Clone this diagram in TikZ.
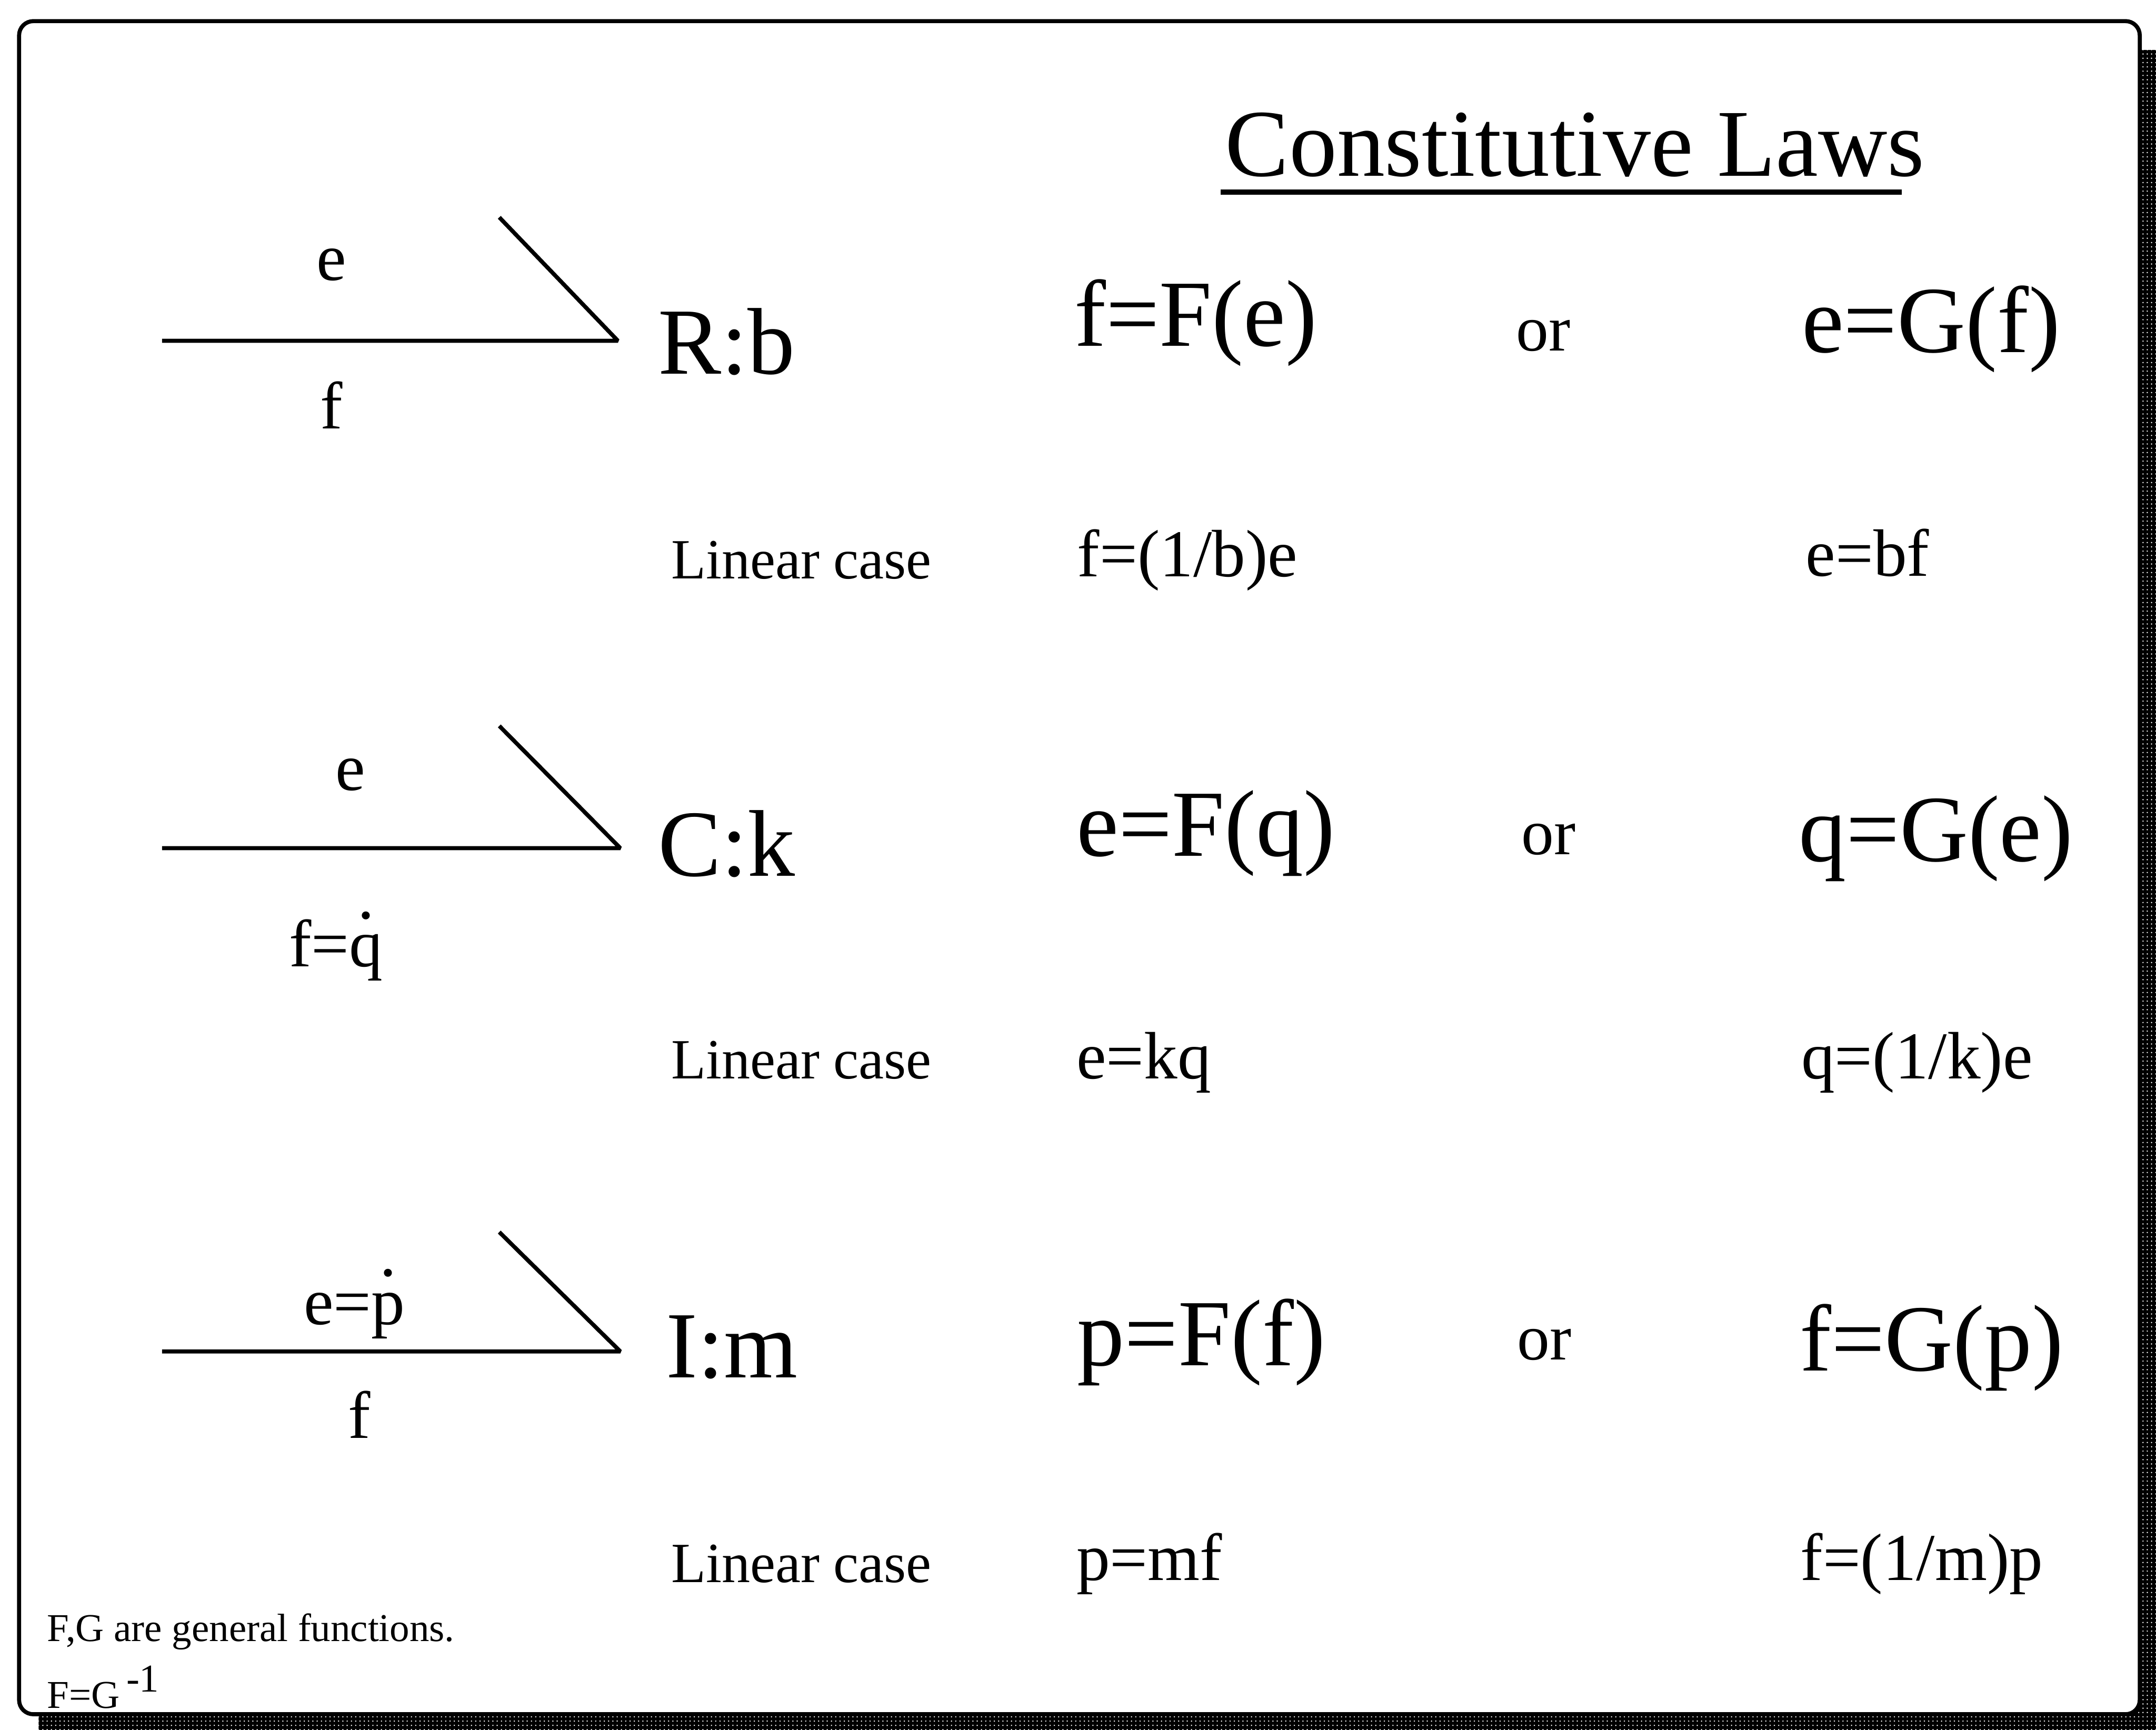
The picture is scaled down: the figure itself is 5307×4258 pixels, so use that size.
\documentclass[tikz,border=0pt]{standalone}
\usepackage{fontspec}
\setmainfont{Liberation Serif}
\usetikzlibrary{patterns}
\newcommand\overdot[1]{\ooalign{#1\cr\hidewidth\raisebox{0.72em}{.}\hidewidth\cr}}
\tikzset{
  txt/.style={inner sep=0pt, outer sep=0pt, anchor=base west},
  ctxt/.style={inner sep=0pt, outer sep=0pt, anchor=base},
  ftitle/.style={font=\fontsize{67pt}{70pt}\selectfont},
  fbig/.style={font=\fontsize{66.3pt}{70pt}\selectfont},
  fmid/.style={font=\fontsize{46.9pt}{50pt}\selectfont},
  forr/.style={font=\fontsize{45.5pt}{50pt}\selectfont},
  flin/.style={font=\fontsize{39.8pt}{44pt}\selectfont},
  ffoot/.style={font=\fontsize{27.6pt}{31pt}\selectfont},
  bondline/.style={line width=0.1cm, line join=bevel},
  frameline/.style={line width=0.1cm, fill=white, rounded corners=0.35cm},
}
\begin{document}
\begin{tikzpicture}[x=0.01cm, y=-0.01cm]
\useasboundingbox (0,0) rectangle (5307,4258);
\clip (0,0) rectangle (5307,4258);
\fill[white] (0,0) rectangle (5307,4258);
% shadow
\fill[black, rounded corners=0.35cm] (95,123) rectangle (5345,4300);
\fill[pattern=dots, pattern color=white] (95,123) rectangle (5345,4300);
% frame
\draw[frameline] (47,52) rectangle (5267,4220);

% title
\node[txt, ftitle] (title) at (3016,433) {Constitutive Laws};
\draw[line width=0.12cm] (3005,473) -- (4681,473);

% bonds
\coordinate (s1) at (399,839);  \coordinate (t1) at (1521,839);  \coordinate (h1) at (1229,535);
\coordinate (s2) at (399,2088); \coordinate (t2) at (1527,2088); \coordinate (h2) at (1229,1787);
\coordinate (s3) at (399,3327); \coordinate (t3) at (1527,3327); \coordinate (h3) at (1229,3033);
\draw[bondline] (s1) -- (t1) -- (h1);
\draw[bondline] (s2) -- (t2) -- (h2);
\draw[bondline] (s3) -- (t3) -- (h3);

% bond labels
\node[ctxt, fmid] (e1) at (816,690) {e};
\node[ctxt, fmid] (f1) at (816,1055) {f};
\node[ctxt, fmid] (e2) at (862,1946) {e};
\node[txt, fmid] (f2) at (712,2380) {f=\overdot{q}};
\node[txt, fmid] (e3) at (748,3260) {e=\overdot{p}};
\node[ctxt, fmid] (f3) at (884,3540) {f};

% elements
\node[txt, fbig] (R) at (1620,920) {R:b};
\node[txt, fbig] (C) at (1620,2157) {C:k};
\node[txt, fbig] (I) at (1640,3392) {I:m};

% general laws
\node[txt, fbig] (F1) at (2645,852) {f=F(e)};
\node[txt, forr] (or1) at (3732,863) {or};
\node[txt, fbig] (G1) at (4435,868) {e=G(f)};
\node[txt, fbig] (F2) at (2650,2107) {e=F(q)};
\node[txt, forr] (or2) at (3745,2103) {or};
\node[txt, fbig] (G2) at (4428,2120) {q=G(e)};
\node[txt, fbig] (F3) at (2652,3362) {p=F(f)};
\node[txt, forr] (or3) at (3735,3347) {or};
\node[txt, fbig] (G3) at (4430,3375) {f=G(p)};

% linear cases
\node[txt, flin] (L1) at (1652,1425) {Linear case};
\node[txt, fmid] (lf1) at (2652,1420) {f=(1/b)e};
\node[txt, fmid] (lg1) at (4445,1418) {e=bf};
\node[txt, flin] (L2) at (1652,2655) {Linear case};
\node[txt, fmid] (lf2) at (2650,2655) {e=kq};
\node[txt, fmid] (lg2) at (4434,2655) {q=(1/k)e};
\node[txt, flin] (L3) at (1652,3895) {Linear case};
\node[txt, fmid] (lf3) at (2650,3890) {p=mf};
\node[txt, fmid] (lg3) at (4432,3890) {f=(1/m)p};

% footnote
\node[txt, ffoot] (n1) at (116,4040) {F,G are general functions.};
\node[txt, ffoot] (n2) at (116,4205) {F=G\,\raisebox{0.4cm}{-1}};
\end{tikzpicture}
\end{document}
